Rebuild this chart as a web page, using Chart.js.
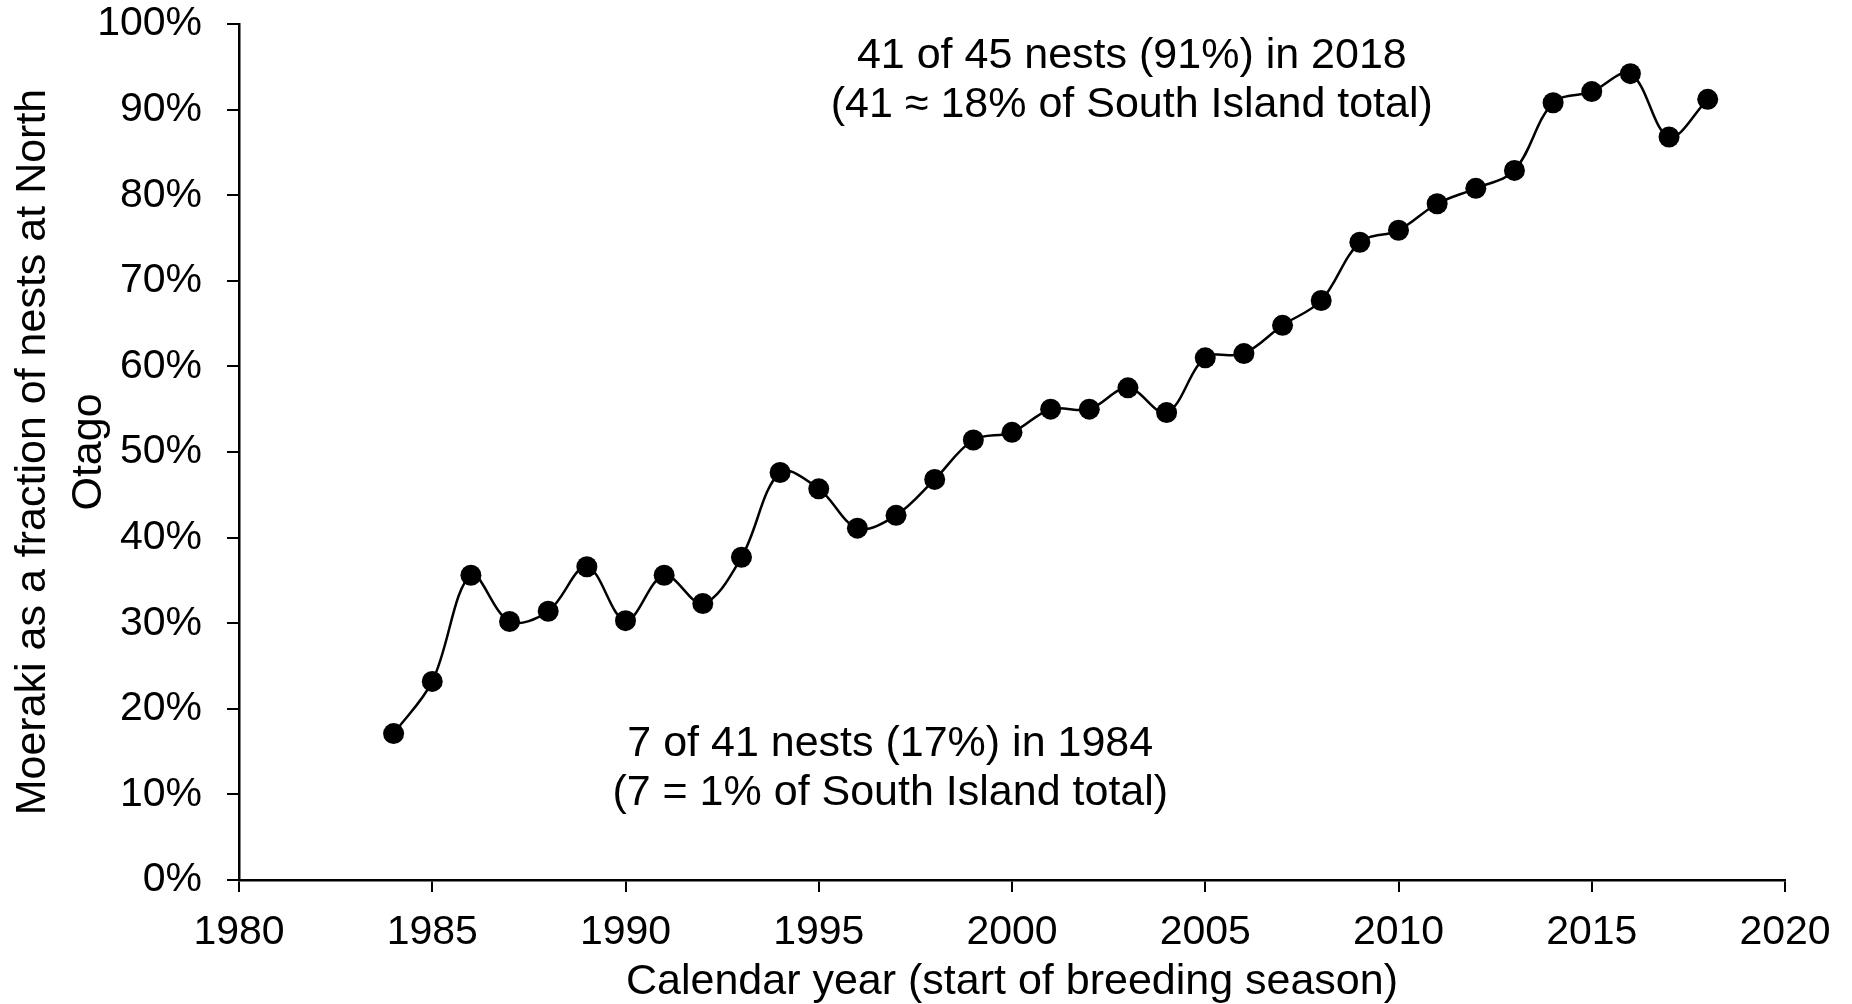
<!DOCTYPE html>
<html>
<head>
<meta charset="utf-8">
<title>Moeraki nests</title>
<script src="https://cdn.jsdelivr.net/npm/chart.js@4.4.1/dist/chart.umd.min.js"></script>
<style>
  html, body { margin: 0; padding: 0; background: #fff; }
  canvas { display: block; }
</style>
</head>
<body>
<canvas id="nestsChart" width="1852" height="1004"></canvas>
<script>
// breeding season start years and Moeraki share (%)
var years = [1984, 1985, 1986, 1987, 1988, 1989, 1990, 1991, 1992, 1993,
             1994, 1995, 1996, 1997, 1998, 1999, 2000, 2001, 2002, 2003,
             2004, 2005, 2006, 2007, 2008, 2009, 2010, 2011, 2012, 2013,
             2014, 2015, 2016, 2017, 2018];
var moerakiShare = [17.1, 23.2, 35.6, 30.2, 31.4, 36.6, 30.3, 35.6, 32.3, 37.7,
                    47.6, 45.7, 41.1, 42.6, 46.8, 51.4, 52.3, 55.0, 55.0, 57.5,
                    54.6, 61.0, 61.5, 64.8, 67.7, 74.5, 75.9, 79.0, 80.8, 82.9,
                    90.8, 92.1, 94.2, 86.8, 91.2];
var yearTicks = [1980, 1985, 1990, 1995, 2000, 2005, 2010, 2015, 2020];
var shareTicks = [0, 10, 20, 30, 40, 50, 60, 70, 80, 90, 100];

var notes = [
    { year: 2003.1, share: 96.3, lines: ['41 of 45 nests (91%) in 2018', '(41 \u2248 18% of South Island total)'] },
    { year: 1996.85, share: 15.9, lines: ['7 of 41 nests (17%) in 1984', '(7 = 1% of South Island total)'] }
];

var points = years.map(function (yr, i) { return { x: yr, y: moerakiShare[i] }; });

Chart.defaults.font.family = "'Liberation Sans', Arial, sans-serif";
Chart.defaults.color = '#000';

var notesPlugin = {
    id: 'notes',
    afterDraw: function (chart) {
        var c = chart.ctx;
        var xs = chart.scales.x, ys = chart.scales.y;
        c.save();
        c.font = "43px 'Liberation Sans', Arial, sans-serif";
        c.fillStyle = '#000';
        c.textAlign = 'center';
        c.textBaseline = 'middle';
        notes.forEach(function (n) {
            var px = xs.getPixelForValue(n.year);
            var py = ys.getPixelForValue(n.share);
            n.lines.forEach(function (line, k) {
                c.fillText(line, px, py + k * 49);
            });
        });
        c.restore();
    }
};

var ctx = document.getElementById('nestsChart').getContext('2d');
var nestsChart = new Chart(ctx, {
    type: 'scatter',
    data: {
        datasets: [{
            data: points,
            showLine: true,
            tension: 0.35,
            borderColor: '#000',
            borderWidth: 2.5,
            backgroundColor: '#000',
            pointRadius: 10.5,
            pointBackgroundColor: '#000',
            pointBorderWidth: 0
        }]
    },
    options: {
        responsive: false,
        animation: false,
        layout: { padding: { top: 0, right: 67, bottom: 0, left: 0 } },
        plugins: {
            legend: { display: false },
            tooltip: { enabled: false }
        },
        scales: {
            x: {
                type: 'linear',
                min: 1980,
                max: 2020,
                afterBuildTicks: function (scale) {
                    scale.ticks = yearTicks.map(function (v) { return { value: v }; });
                },
                afterFit: function (scale) { scale.height = 124; },
                ticks: {
                    font: { size: 41 },
                    padding: 16,
                    maxRotation: 0,
                    callback: function (v) { return String(v); }
                },
                grid: {
                    drawOnChartArea: false,
                    drawTicks: true,
                    tickLength: 12,
                    color: '#000',
                    lineWidth: 2
                },
                border: { color: '#000', width: 2.5 },
                title: {
                    display: true,
                    text: 'Calendar year (start of breeding season)',
                    font: { size: 43, lineHeight: 1.0 },
                    padding: { top: 0, bottom: 0 }
                }
            },
            y: {
                min: 0,
                max: 100,
                afterBuildTicks: function (scale) {
                    scale.ticks = shareTicks.map(function (v) { return { value: v }; });
                },
                afterFit: function (scale) {
                    scale.width = 239;
                    // keep the plot top level with the 100% label, as in the source
                    scale.paddingTop = 24;
                    scale.paddingBottom = 0;
                },
                ticks: {
                    font: { size: 41 },
                    padding: 25,
                    callback: function (v) { return v + '%'; }
                },
                grid: {
                    drawOnChartArea: false,
                    drawTicks: true,
                    tickLength: 12,
                    color: '#000',
                    lineWidth: 2
                },
                border: { color: '#000', width: 2.5 },
                title: {
                    display: true,
                    text: ['Moeraki as a fraction of nests at North', 'Otago'],
                    font: { size: 43, lineHeight: 1.3 },
                    padding: { top: 5, bottom: 0 }
                }
            }
        }
    },
    plugins: [notesPlugin]
});
</script>
</body>
</html>
